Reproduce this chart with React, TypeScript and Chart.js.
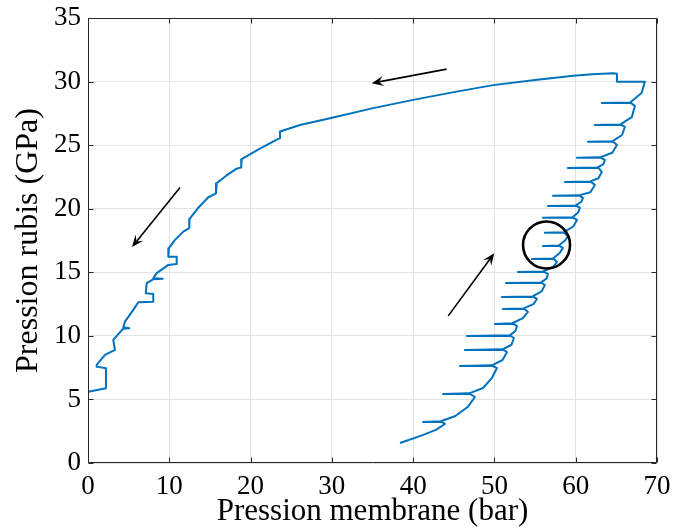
import React, { useEffect, useRef } from 'react';
import { Chart, registerables } from 'chart.js';

Chart.register(...registerables);

const xTicks = [0, 10, 20, 30, 40, 50, 60, 70];
const yTicks = [0, 5, 10, 15, 20, 25, 30, 35];

// loading branch (pression membrane, pression rubis)
const loadX = [
  38.38, 41.0, 42.8, 43.91, 43.5, 41.21, 43.4, 45.2, 46.7, 47.6, 47.0, 43.67, 46.9, 48.6, 49.7, 50.31, 49.8, 45.76, 49.7,
  51.0, 51.54, 51.1, 46.37, 51.0, 52.1, 52.4, 52.0, 46.62, 51.9, 52.6, 52.77, 52.3, 50.06, 52.2, 53.5, 54.12, 53.7, 51.05,
  53.6, 54.8, 55.23, 54.8, 50.92, 54.7, 55.8, 56.21, 55.8, 51.41, 55.7, 56.4, 56.58, 56.1, 52.89, 56.0, 57.2, 57.69, 57.3,
  54.61, 57.2, 58.0, 58.43, 58.0, 55.97, 57.9, 58.7, 59.04, 58.6, 56.21, 58.5, 59.7, 60.15, 59.7, 55.97, 59.6, 60.3, 60.52,
  60.1, 56.58, 60.0, 60.7, 60.89, 60.5, 57.2, 60.4, 61.8, 62.36, 61.9, 58.67, 61.8, 62.8, 63.22, 62.8, 59.04, 62.7, 63.4,
  63.59, 63.1, 60.15, 63.0, 64.5, 65.07, 64.6, 61.5, 64.5, 65.7, 66.05, 65.6, 62.36, 65.5, 66.9, 67.28, 66.8, 63.22, 66.7,
  68.1, 68.51, 65.07, 65.07,
];
const loadY = [
  1.57, 2.15, 2.6, 3.07, 3.23, 3.23, 3.28, 3.7, 4.4, 5.19, 5.43, 5.43, 5.48, 5.9, 6.7, 7.47, 7.63, 7.63, 7.68,
  8.1, 8.73, 8.89, 8.89, 8.94, 9.3, 9.83, 9.99, 9.99, 10.04, 10.4, 10.78, 10.94, 10.94, 10.99, 11.4, 11.88, 12.12, 12.12,
  12.16, 12.5, 12.9, 13.06, 13.06, 13.1, 13.5, 14.0, 14.16, 14.16, 14.2, 14.5, 14.87, 15.03, 15.03, 15.07, 15.4, 15.81, 16.05,
  16.05, 16.09, 16.5, 16.92, 17.07, 17.07, 17.11, 17.5, 17.86, 18.1, 18.1, 18.14, 18.6, 19.12, 19.28, 19.28, 19.32, 19.7, 20.06,
  20.22, 20.22, 20.26, 20.55, 20.85, 21.01, 21.01, 21.05, 21.3, 21.87, 22.11, 22.11, 22.15, 22.4, 22.9, 23.21, 23.21, 23.25, 23.5,
  23.84, 24.0, 24.0, 24.04, 24.4, 25.02, 25.26, 25.26, 25.3, 25.8, 26.44, 26.59, 26.59, 26.63, 27.2, 28.09, 28.32, 28.32, 28.36,
  29.1, 29.98, 29.98, 30.61,
];

// unloading branch
const unloadX = [
  64.6, 62.0, 59.7, 55.0, 49.85, 45.0, 40.01, 35.09, 29.77, 26.08, 23.62, 23.62, 23.41, 21.2, 18.9, 18.85, 18.29, 17.0, 15.83,
  15.75, 14.8, 13.6, 12.5, 12.45, 11.72, 10.7, 9.95, 9.88, 10.91, 10.91, 9.88, 8.45, 8.03, 9.19, 8.0, 7.22, 7.1, 8.03, 8.03,
  6.19, 5.57, 4.55, 4.34, 5.08, 4.3, 3.11, 3.32, 2.09, 1.07, 1.07, 2.21, 2.21, 0.04,
];
const unloadY = [
  30.66, 30.57, 30.45, 30.13, 29.72, 29.17, 28.56, 27.91, 27.12, 26.59, 26.07, 25.55, 25.49, 24.75, 23.9, 23.25, 23.15, 22.6, 22.0,
  21.2, 20.9, 20.1, 19.2, 18.47, 18.2, 17.55, 16.9, 16.23, 16.23, 15.66, 15.58, 14.93, 14.53, 14.5, 14.45, 14.14, 13.35, 13.3, 12.69,
  12.64, 12.04, 11.12, 10.68, 10.6, 10.55, 9.68, 8.89, 8.5, 7.71, 7.58, 7.45, 5.88, 5.61,
];

// annotation arrows (data units)
const arrowTailX = [44.12, 11.32, 44.32];
const arrowTailY = [30.98, 21.66, 11.57];
const arrowHeadX = [34.9, 5.41, 49.98];
const arrowHeadY = [29.87, 16.99, 16.5];
// annotation circle
const circleCenter = [56.41, 17.15];
const circleRadiusX = 2.89;

const SERIF = "'Times New Roman', 'Liberation Serif', serif";

const overlayPlugin = {
  id: 'overlay',
  afterDatasetsDraw(chart: any) {
    const { ctx, scales } = chart;
    const xs = scales.x;
    const ys = scales.y;
    ctx.save();
    ctx.strokeStyle = '#000';
    ctx.fillStyle = '#000';
    ctx.lineWidth = 1.6;
    for (let i = 0; i < arrowTailX.length; i++) {
      const tx = xs.getPixelForValue(arrowTailX[i]);
      const ty = ys.getPixelForValue(arrowTailY[i]);
      const hx = xs.getPixelForValue(arrowHeadX[i]);
      const hy = ys.getPixelForValue(arrowHeadY[i]);
      const ang = Math.atan2(hy - ty, hx - tx);
      const len = 12;
      const half = 5;
      const bx = hx - Math.cos(ang) * len;
      const by = hy - Math.sin(ang) * len;
      const nx = hx - Math.cos(ang) * (len * 0.6);
      const ny = hy - Math.sin(ang) * (len * 0.6);
      ctx.beginPath();
      ctx.moveTo(tx, ty);
      ctx.lineTo(nx, ny);
      ctx.stroke();
      ctx.beginPath();
      ctx.moveTo(hx, hy);
      ctx.lineTo(bx + Math.sin(ang) * half, by - Math.cos(ang) * half);
      ctx.lineTo(nx, ny);
      ctx.lineTo(bx - Math.sin(ang) * half, by + Math.cos(ang) * half);
      ctx.closePath();
      ctx.fill();
    }
    const cx = xs.getPixelForValue(circleCenter[0]);
    const cy = ys.getPixelForValue(circleCenter[1]);
    const r = xs.getPixelForValue(circleCenter[0] + circleRadiusX) - cx;
    ctx.lineWidth = 2.6;
    ctx.beginPath();
    ctx.arc(cx, cy, r, 0, Math.PI * 2);
    ctx.stroke();
    ctx.restore();
  },
  afterDraw(chart: any) {
    const { ctx, chartArea, scales } = chart;
    const l = Math.round(chartArea.left) + 0.5;
    const r = Math.round(chartArea.right) - 0.5;
    const t = Math.round(chartArea.top) + 0.5;
    const b = Math.round(chartArea.bottom) - 0.5;
    ctx.save();
    ctx.strokeStyle = '#262626';
    ctx.lineWidth = 1;
    ctx.beginPath();
    ctx.rect(l, t, r - l, b - t);
    const tl = 5;
    for (const v of xTicks) {
      const px = Math.round(scales.x.getPixelForValue(v)) + 0.5;
      ctx.moveTo(px, b);
      ctx.lineTo(px, b - tl);
      ctx.moveTo(px, t);
      ctx.lineTo(px, t + tl);
    }
    for (const v of yTicks) {
      const py = Math.round(scales.y.getPixelForValue(v)) + 0.5;
      ctx.moveTo(l, py);
      ctx.lineTo(l + tl, py);
      ctx.moveTo(r, py);
      ctx.lineTo(r - tl, py);
    }
    ctx.stroke();
    ctx.restore();
  },
};

export default function App() {
  const ref = useRef<HTMLCanvasElement | null>(null);
  useEffect(() => {
    if (!ref.current) return;
    const pts = [
      ...loadX.map((x, i) => ({ x, y: loadY[i] })),
      ...unloadX.map((x, i) => ({ x, y: unloadY[i] })),
    ];
    const chart = new Chart(ref.current, {
      type: 'scatter',
      data: {
        datasets: [
          {
            data: pts,
            showLine: true,
            borderColor: '#0072BD',
            backgroundColor: '#0072BD',
            borderWidth: 2,
            pointRadius: 0,
            tension: 0,
            borderJoinStyle: 'round',
          },
        ],
      },
      options: {
        animation: false,
        responsive: false,
        devicePixelRatio: 1,
        layout: { padding: { left: 0, top: 18, right: 16, bottom: 0 } },
        plugins: { legend: { display: false }, tooltip: { enabled: false } },
        scales: {
          x: {
            type: 'linear',
            min: 0,
            max: 70,
            afterBuildTicks: (s: any) => {
              s.ticks = xTicks.map((v) => ({ value: v }));
            },
            afterFit: (s: any) => {
              s.height = 67;
            },
            ticks: { font: { family: SERIF, size: 27, lineHeight: 1.8 }, color: '#000', padding: 0, maxRotation: 0 },
            grid: { color: '#e3e3e3', drawTicks: false, lineWidth: 1 },
            border: { display: false },
            title: {
              display: true,
              text: 'Pression membrane (bar)',
              font: { family: SERIF, size: 31, lineHeight: 1.2 },
              color: '#000',
              padding: { top: 0, bottom: 0 },
            },
          },
          y: {
            type: 'linear',
            min: 0,
            max: 35,
            afterBuildTicks: (s: any) => {
              s.ticks = yTicks.map((v) => ({ value: v }));
            },
            afterFit: (s: any) => {
              s.width = 88;
            },
            ticks: { font: { family: SERIF, size: 27, lineHeight: 0.8 }, color: '#000', padding: 7 },
            grid: { color: '#e3e3e3', drawTicks: false, lineWidth: 1 },
            border: { display: false },
            title: {
              display: true,
              text: 'Pression rubis (GPa)',
              font: { family: SERIF, size: 32, lineHeight: 1.2 },
              color: '#000',
              padding: { top: 9, bottom: 0 },
            },
          },
        },
      },
      plugins: [overlayPlugin],
    });
    return () => chart.destroy();
  }, []);
  return (
    <div style={{ position: 'absolute', left: 0, top: 0, width: 673, height: 530, background: '#fff' }}>
      <canvas ref={ref} width={673} height={530} style={{ width: 673, height: 530, display: 'block' }} />
    </div>
  );
}
